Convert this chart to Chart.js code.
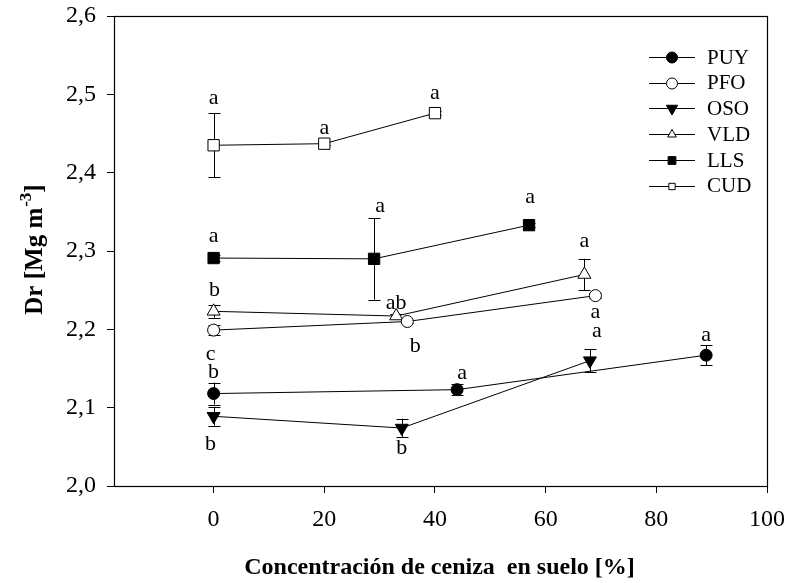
<!DOCTYPE html>
<html>
<head>
<meta charset="utf-8">
<script src="https://cdn.jsdelivr.net/npm/chart.js@4/dist/chart.umd.min.js"></script>
<style>
    html, body { margin: 0; padding: 0; background: #fff; }
</style>
</head>
<body>
<canvas id="graficoDr" width="788" height="583"></canvas>
<script>
// Dados
const series = ["PUY", "PFO", "OSO", "VLD", "LLS", "CUD"];

const xPUY = [0, 44, 89];
const yPUY = [2.118, 2.123, 2.167];
const ePUY = [0.014, 0.007, 0.013];
const lPUY = ["b", "a", "a"];

const xPFO = [0, 35, 69];
const yPFO = [2.199, 2.210, 2.243];
const ePFO = [0.006, 0.002, 0.003];
const lPFO = ["c", "b", "a"];

const xOSO = [0, 34, 68];
const yOSO = [2.089, 2.074, 2.160];
const eOSO = [0.012, 0.012, 0.015];
const lOSO = ["b", "b", "a"];

const xVLD = [0, 33, 67];
const yVLD = [2.223, 2.217, 2.270];
const eVLD = [0.008, 0.002, 0.020];
const lVLD = ["b", "ab", "a"];

const xLLS = [0, 29, 57];
const yLLS = [2.291, 2.290, 2.333];
const eLLS = [0.004, 0.052, 0.003];
const lLLS = ["a", "a", "a"];

const xCUD = [0, 20, 40];
const yCUD = [2.435, 2.437, 2.476];
const eCUD = [0.041, 0.002, 0.003];
const lCUD = ["a", "a", "a"];

const xTicks = [0, 20, 40, 60, 80, 100];
const yTicks = [2.0, 2.1, 2.2, 2.3, 2.4, 2.5, 2.6];

// deslocamento (px) das letras em relação ao ponto
const letraOffset = {
    PUY: [[0, -21], [5, -16], [0, -20]],
    PFO: [[-3, 24], [8, 25], [0, 17]],
    OSO: [[-3, 28], [0, 20], [7, -29]],
    VLD: [[1, -21], [0, -13], [0, -33]],
    LLS: [[0, -22], [6, -53], [1, -28]],
    CUD: [[0, -47], [0, -15], [0, -20]]
};

const FONTE = "'Liberation Serif', 'Times New Roman', serif";

function pontos(xs, ys) {
    return xs.map((x, i) => ({ x: x, y: ys[i] }));
}

const estilos = {
    PUY: { pointStyle: "circle", radius: 6, fill: "#000", rotation: 0, legRadius: 5.5 },
    PFO: { pointStyle: "circle", radius: 6, fill: "#fff", rotation: 0, legRadius: 5.5 },
    OSO: { pointStyle: "triangle", radius: 7.5, fill: "#000", rotation: 180, legRadius: 6.5 },
    VLD: { pointStyle: "triangle", radius: 7.5, fill: "#fff", rotation: 0, legRadius: 5 },
    LLS: { pointStyle: "rect", radius: 8, fill: "#000", rotation: 0, legRadius: 5.5 },
    CUD: { pointStyle: "rect", radius: 8, fill: "#fff", rotation: 0, legRadius: 4.5 }
};

const valores = {
    PUY: [xPUY, yPUY, ePUY, lPUY],
    PFO: [xPFO, yPFO, ePFO, lPFO],
    OSO: [xOSO, yOSO, eOSO, lOSO],
    VLD: [xVLD, yVLD, eVLD, lVLD],
    LLS: [xLLS, yLLS, eLLS, lLLS],
    CUD: [xCUD, yCUD, eCUD, lCUD]
};

const datasets = series.map(nome => {
    const est = estilos[nome];
    return {
        label: nome,
        data: pontos(valores[nome][0], valores[nome][1]),
        borderColor: "#000",
        borderWidth: 1,
        backgroundColor: est.fill,
        pointStyle: est.pointStyle,
        pointRadius: est.radius,
        pointRotation: est.rotation,
        pointBackgroundColor: est.fill,
        pointBorderColor: "#000",
        pointBorderWidth: 1,
        showLine: true,
        tension: 0
    };
});

function desenharMarcador(ctx, est, raio, x, y) {
    if (Chart.helpers && Chart.helpers.drawPoint) {
        Chart.helpers.drawPoint(ctx, {
            pointStyle: est.pointStyle,
            radius: raio,
            rotation: est.rotation,
            borderWidth: 1
        }, x, y);
        return;
    }
    ctx.beginPath();
    ctx.arc(x, y, raio, 0, Math.PI * 2);
    ctx.fill();
    ctx.stroke();
}

// barras de erro, letras, moldura, títulos e legenda
const pluginExtras = {
    id: "extras",
    beforeDatasetsDraw(chart) {
        const ctx = chart.ctx;
        const yScale = chart.scales.y;
        ctx.save();
        ctx.strokeStyle = "#000";
        ctx.lineWidth = 1;
        series.forEach((nome, i) => {
            const meta = chart.getDatasetMeta(i);
            const ys = valores[nome][1];
            const es = valores[nome][2];
            meta.data.forEach((pt, j) => {
                const x = Math.round(pt.x) + 0.5;
                const yTop = yScale.getPixelForValue(ys[j] + es[j]);
                const yBot = yScale.getPixelForValue(ys[j] - es[j]);
                ctx.beginPath();
                ctx.moveTo(x, yTop);
                ctx.lineTo(x, yBot);
                ctx.moveTo(x - 6, Math.round(yTop) + 0.5);
                ctx.lineTo(x + 6, Math.round(yTop) + 0.5);
                ctx.moveTo(x - 6, Math.round(yBot) + 0.5);
                ctx.lineTo(x + 6, Math.round(yBot) + 0.5);
                ctx.stroke();
            });
        });
        ctx.restore();
    },
    afterDatasetsDraw(chart) {
        const ctx = chart.ctx;
        ctx.save();
        ctx.fillStyle = "#000";
        ctx.font = "22px " + FONTE;
        ctx.textAlign = "center";
        ctx.textBaseline = "middle";
        series.forEach((nome, i) => {
            const meta = chart.getDatasetMeta(i);
            const letras = valores[nome][3];
            meta.data.forEach((pt, j) => {
                const off = letraOffset[nome][j];
                ctx.fillText(letras[j], pt.x + off[0], pt.y + off[1]);
            });
        });
        ctx.restore();
    },
    afterDraw(chart) {
        const ctx = chart.ctx;
        const area = chart.chartArea;
        ctx.save();

        // moldura
        ctx.strokeStyle = "#000";
        ctx.lineWidth = 1.2;
        ctx.strokeRect(Math.round(area.left) + 0.5, Math.round(area.top) + 0.5,
            Math.round(area.right - area.left), Math.round(area.bottom - area.top));

        // título eixo x
        ctx.fillStyle = "#000";
        ctx.font = "bold 24px " + FONTE;
        ctx.textAlign = "center";
        ctx.textBaseline = "alphabetic";
        ctx.fillText("Concentración de ceniza  en suelo [%]", (area.left + area.right) / 2 - 1, 574);

        // título eixo y com sobrescrito
        ctx.translate(42, 250);
        ctx.rotate(-Math.PI / 2);
        const parte1 = "Dr [Mg m";
        const sup = "-3";
        const parte2 = "]";
        ctx.font = "bold 25px " + FONTE;
        const w1 = ctx.measureText(parte1).width;
        const w3 = ctx.measureText(parte2).width;
        ctx.font = "bold 17px " + FONTE;
        const w2 = ctx.measureText(sup).width;
        let x0 = -(w1 + w2 + w3) / 2;
        ctx.textAlign = "left";
        ctx.textBaseline = "alphabetic";
        ctx.font = "bold 25px " + FONTE;
        ctx.fillText(parte1, x0, 0);
        ctx.font = "bold 17px " + FONTE;
        ctx.fillText(sup, x0 + w1 + 1, -11);
        ctx.font = "bold 25px " + FONTE;
        ctx.fillText(parte2, x0 + w1 + w2 + 1, 0);
        ctx.setTransform(1, 0, 0, 1, 0, 0);

        // legenda
        const linhaY = [57, 82.5, 108, 134, 160, 185.5];
        ctx.lineWidth = 1;
        series.forEach((nome, i) => {
            const est = estilos[nome];
            const y = linhaY[i];
            ctx.strokeStyle = "#000";
            ctx.beginPath();
            ctx.moveTo(649, Math.round(y) + 0.5);
            ctx.lineTo(695, Math.round(y) + 0.5);
            ctx.stroke();
            ctx.fillStyle = est.fill;
            desenharMarcador(ctx, est, est.legRadius, 672, Math.round(y) + 0.5);
            ctx.fillStyle = "#000";
            ctx.font = "21px " + FONTE;
            ctx.textAlign = "left";
            ctx.textBaseline = "middle";
            ctx.fillText(nome, 707, y + 1);
        });
        ctx.restore();
    }
};

const contexto = document.getElementById("graficoDr").getContext("2d");

const grafico = new Chart(contexto, {
    type: "line",
    data: { datasets: datasets },
    plugins: [pluginExtras],
    options: {
        responsive: false,
        animation: false,
        devicePixelRatio: 1,
        layout: { padding: { top: 16, right: 21, left: 0, bottom: 0 } },
        plugins: {
            legend: { display: false },
            tooltip: { enabled: false },
            title: { display: false }
        },
        scales: {
            x: {
                type: "linear",
                min: -18,
                max: 100,
                afterBuildTicks: (s) => { s.ticks = xTicks.map(v => ({ value: v })); },
                afterFit: (s) => { s.height = 97; s.paddingLeft = 0; s.paddingRight = 0; },
                ticks: {
                    color: "#000",
                    font: { family: FONTE, size: 24 },
                    padding: 12,
                    maxRotation: 0
                },
                grid: { drawOnChartArea: false, drawTicks: true, tickLength: 7, color: "#000" },
                border: { display: true, color: "#000", width: 1 }
            },
            y: {
                type: "linear",
                min: 2.0,
                max: 2.6,
                afterBuildTicks: (s) => { s.ticks = yTicks.map(v => ({ value: v })); },
                afterFit: (s) => { s.width = 114; s.paddingTop = 0; s.paddingBottom = 0; },
                ticks: {
                    color: "#000",
                    font: { family: FONTE, size: 24 },
                    padding: 11,
                    callback: (v) => v.toFixed(1).replace(".", ",")
                },
                grid: { drawOnChartArea: false, drawTicks: true, tickLength: 7, color: "#000" },
                border: { display: true, color: "#000", width: 1 }
            }
        }
    }
});
</script>
</body>
</html>
